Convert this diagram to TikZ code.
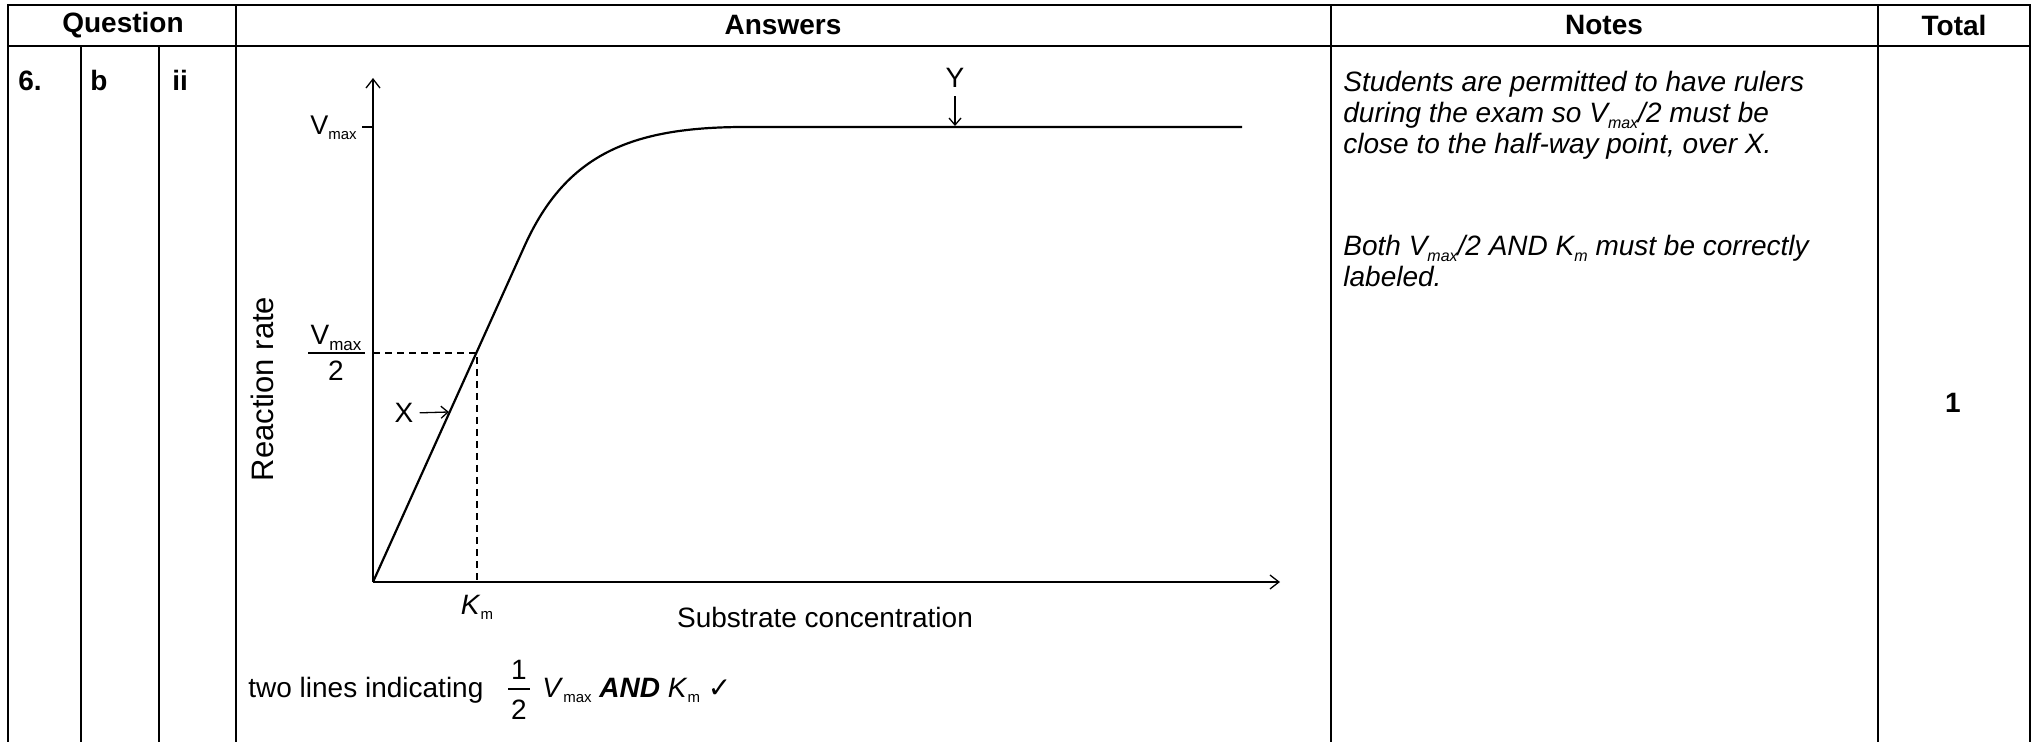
\documentclass[tikz,border=0pt]{standalone}
\usepackage{fontspec}
\setmainfont{Liberation Sans}
\newfontfamily\chkfont{DejaVu Sans}
\usetikzlibrary{arrows.meta}
\newcommand\lowsub[2][8.5]{\raisebox{-0.35ex}{\fontsize{#1}{9}\selectfont #2}}
\begin{document}
\begin{tikzpicture}[x=0.5pt,y=-0.5pt,
  grid/.style={line width=1pt},
  axis/.style={line width=0.65pt},
  curve/.style={line width=1.1pt, line join=round},
  guide/.style={line width=0.7pt, dash pattern=on 3.5pt off 2.5pt},
  hdr/.style={font=\fontsize{14}{16}\selectfont\bfseries, inner sep=0pt},
  txt/.style={font=\fontsize{14}{16}\selectfont, inner sep=0pt},
  note/.style={font=\fontsize{14}{16}\selectfont\itshape, inner sep=0pt, anchor=base west},
  lbl/.style={font=\fontsize{14}{16}\selectfont, inner sep=0pt},
  barb/.style={-{Straight Barb[length=4.5pt,width=7pt]}},
  smallbarb/.style={-{Straight Barb[length=3.5pt,width=6pt]}},
]
\useasboundingbox (0,0) rectangle (2038,742);
% table
\draw[grid] (8,742) -- (8,5) -- (2030,5) -- (2030,742);
\draw[grid] (8,46) -- (2030,46);
\draw[grid] (81,46) -- (81,742);
\draw[grid] (159,46) -- (159,742);
\draw[grid] (236,5) -- (236,742);
\draw[grid] (1331,5) -- (1331,742);
\draw[grid] (1878,5) -- (1878,742);
% headers
\node[hdr] (hq) at (123,25) {Question};
\node[hdr] (ha) at (783,25) {Answers};
\node[hdr] (hn) at (1604,25) {Notes};
\node[hdr] (ht) at (1954,25) {Total};
\node[hdr, anchor=base west] (q6) at (18,91) {6.};
\node[hdr, anchor=base west] (qb) at (90,91) {b};
\node[hdr, anchor=base west] (qii) at (172,91) {ii};
\node[hdr] (tot) at (1953,403) {1};
% graph
\coordinate (O) at (373,582);
\coordinate (ytop) at (373,78);
\coordinate (xend) at (1280,582);
\draw[axis,barb] (O) -- (ytop);
\draw[axis,barb] (O) -- (xend);
\coordinate (tk) at (362,127);
\coordinate (tk2) at (373,127);
\draw[axis] (tk) -- (tk2);
\node[lbl, anchor=base east, font=\fontsize{13.5}{16}\selectfont] (vmaxl) at (357,135) {V\lowsub[7.5]{max}};
\coordinate (H) at (477,353);
\coordinate (Hy) at (373,353);
\coordinate (Hx) at (477,582);
\draw[guide] (Hy) -- (H) -- (Hx);
\draw[curve] (O) -- (525,245) .. controls (566,155) and (630,127) .. (745,127) -- (1242,127);
\node[lbl, anchor=base] (fn) at (336,345) {V\lowsub{max}};
\node[lbl, anchor=base] (fd) at (336,381) {2};
\draw[axis] (308,353) -- (365,353);
\node[lbl] (xl) at (404,413) {X};
\coordinate (xtip) at (449,412);
\draw[axis,smallbarb,shorten <=3pt] (xl.east) -- (xtip);
\node[lbl] (yl) at (955,78) {Y};
\coordinate (ytip) at (955,126);
\draw[axis,smallbarb,shorten <=4pt] (yl.south) -- (ytip);
\node[lbl] (km) at (477,607) {\textit{K}\lowsub[7.5]{m}};
\node[lbl] (sc) at (825,617) {Substrate concentration};
\node[lbl, rotate=90, font=\fontsize{15.5}{17}\selectfont] (rr) at (262,389) {Reaction rate};
% bottom answer line
\node[txt, anchor=base west] (b1) at (248,697) {two lines indicating};
\node[txt] (b1n) at (519,670) {1};
\node[txt] (b1d) at (519,710) {2};
\draw[axis] (508,689) -- (530,689);
\node[txt, anchor=base west] (b2) at (542,697) {\textit{V}\lowsub[7.5]{max} \textbf{\textit{AND}} \textit{K}\lowsub[7.5]{m} {\chkfont ✓}};
% notes
\node[note] (n1) at (1343,92) {Students are permitted to have rulers};
\node[note] (n2) at (1343,123) {during the exam so V\lowsub[8]{max}/2 must be};
\node[note] (n3) at (1343,154) {close to the half-way point, over X.};
\node[note] (n4) at (1343,256) {Both V\lowsub[8]{max}/2 AND K\lowsub[8]{m} must be correctly};
\node[note] (n5) at (1343,287) {labeled.};
\end{tikzpicture}
\end{document}
